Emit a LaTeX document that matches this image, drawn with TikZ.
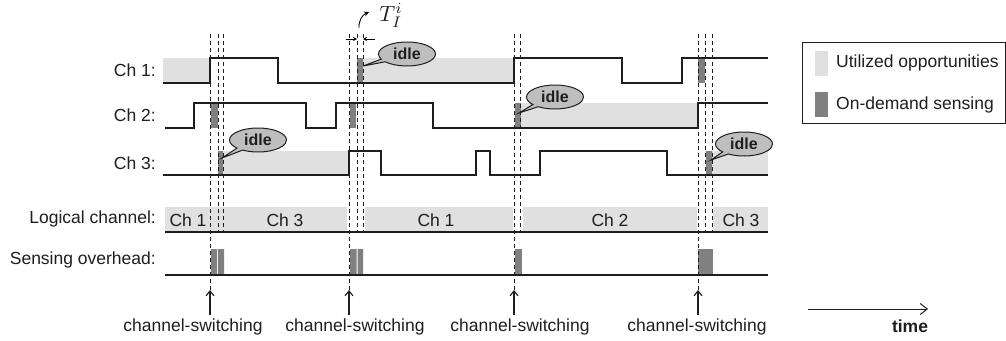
\documentclass[tikz,border=0pt]{standalone}
\usepackage{fontspec}
\setmainfont{Liberation Sans}
\usetikzlibrary{arrows.meta,shapes.callouts}
\definecolor{IdleGray}{HTML}{E0E0E0}
\definecolor{SenseGray}{HTML}{808080}
\definecolor{BubbleGray}{HTML}{BEBEBE}
\definecolor{InkBlack}{HTML}{1E1E1E}

\begin{document}
\begin{tikzpicture}[x=1pt,y=-1pt,
  every node/.style={font=\fontsize{17.5}{20}\selectfont,text=InkBlack},
  rowlabel/.style={anchor=east,inner sep=0pt},
  wave/.style={line width=1.6pt,InkBlack},
  guide/.style={dash pattern=on 4pt off 3pt,line width=.8pt,InkBlack},
  switcharrow/.style={-{Straight Barb[length=5pt,width=8pt]},line width=1.1pt,InkBlack},
  idlebubble/.style={ellipse callout,draw=InkBlack,line width=1pt,fill=BubbleGray,
    minimum width=57pt,minimum height=24pt,inner sep=0pt,
    font=\fontsize{16}{18}\selectfont\bfseries}]
  \useasboundingbox (0,0) rectangle (1006,340);
  % utilized opportunities
  \fill[IdleGray] (163,58) rectangle (210,83);
  \fill[IdleGray] (363,58) rectangle (514,83);
  \fill[IdleGray] (521,103) rectangle (698,128);
  \fill[IdleGray] (223,151) rectangle (349,175);
  \fill[IdleGray] (712,151) rectangle (768,175);
  % logical channel band
  \fill[IdleGray] (165,207) rectangle (347,232);
  \fill[IdleGray] (365,207) rectangle (513,232);
  \fill[IdleGray] (523,207) rectangle (697,232);
  \fill[IdleGray] (713,207) rectangle (768,232);
  % on-demand sensing
  \fill[SenseGray] (211,103) rectangle (218,128);
  \fill[SenseGray] (218,151) rectangle (223,175);
  \fill[SenseGray] (357,58) rectangle (363,83);
  \fill[SenseGray] (350,103) rectangle (356,128);
  \fill[SenseGray] (515,103) rectangle (521,128);
  \fill[SenseGray] (698,58) rectangle (705,83);
  \fill[SenseGray] (706,151) rectangle (712,175);
  % sensing overhead
  \fill[SenseGray] (211,249) rectangle (217,275) (218,249) rectangle (224,275);
  \fill[SenseGray] (350,249) rectangle (356.5,275) (357.5,249) rectangle (363,275);
  \fill[SenseGray] (515,249) rectangle (522,275);
  \fill[SenseGray] (698,249) rectangle (713,275);

  % switching instants
  \foreach \x/\t/\n in {210/193/1,349/355/2,514/520/3,698/697/4}{
    \coordinate (tip\n) at (\x,290);
    \node (sw\n) at (\t,327) {channel-switching};
    \draw[guide] (\x,34) -- (tip\n);
    \draw[switcharrow] (sw\n.north -| tip\n) -- (tip\n);
  }
  \foreach \x in {218,223,357,363,520,705,712}
    \draw[guide] (\x,34) -- (\x,232);

  % channel states
  \draw[wave] (163,83) -- (210,83) -- (210,58) -- (278,58) -- (278,83) -- (514,83)
    -- (514,58) -- (622,58) -- (622,83) -- (682,83) -- (682,58) -- (768,58);
  \draw[wave] (165,128) -- (194,128) -- (194,103) -- (306,103) -- (306,128) -- (336,128)
    -- (336,103) -- (433,103) -- (433,128) -- (698,128) -- (698,103) -- (768,103);
  \draw[wave] (163,175) -- (349,175) -- (349,151) -- (381,151) -- (381,175) -- (476,175)
    -- (476,151) -- (490,151) -- (490,175) -- (540,175) -- (540,151) -- (667,151)
    -- (667,175) -- (768,175);
  \draw[wave] (165,232) -- (768,232);
  \draw[wave] (165,275) -- (768,275);

  \node[rowlabel] (lblA) at (156,70) {Ch 1:};
  \node[rowlabel] (lblB) at (156,115) {Ch 2:};
  \node[rowlabel] (lblC) at (156,163) {Ch 3:};
  \node[rowlabel] (lblLog) at (156,219) {Logical channel:};
  \node[rowlabel] (lblSense) at (156,260) {Sensing overhead:};

  \node (log1) at (188,220) {Ch 1};
  \node (log2) at (285,220) {Ch 3};
  \node (log3) at (436,220) {Ch 1};
  \node (log4) at (610,220) {Ch 2};
  \node (log5) at (741,220) {Ch 3};

  % idle bubbles
  \node[idlebubble,callout absolute pointer={(363,66)}] (idleA) at (407,54) {idle};
  \node[idlebubble,callout absolute pointer={(222,158)}] (idleB) at (258,140) {idle};
  \node[idlebubble,callout absolute pointer={(519,113)}] (idleC) at (555,97) {idle};
  \node[idlebubble,callout absolute pointer={(711,160)}] (idleD) at (744,144) {idle};

  % sensing interval
  \draw[-{Stealth[length=4pt,width=4pt]},line width=.7pt] (346,39) -- (357,39);
  \draw[-{Stealth[length=4pt,width=4pt]},line width=.7pt] (375,39) -- (363,39);
  \draw[-{Stealth[length=5pt,width=5pt]},line width=.9pt] (359,28) to[bend left=35] (369,12);
  \node[font=\normalsize,scale=2.2,inner sep=0pt] (tsense) at (391,15) {$T_I^i$};

  % legend
  \draw[line width=.8pt,InkBlack] (802,42) rectangle (1005.5,123);
  \fill[IdleGray] (815,51) rectangle (828,76);
  \fill[SenseGray] (815,92) rectangle (828,117);
  \node[anchor=west,inner sep=0pt] (legA) at (836,63) {Utilized opportunities};
  \node[anchor=west,inner sep=0pt] (legB) at (836,105) {On-demand sensing};

  % time axis
  \coordinate (tend) at (928,309);
  \node[font=\fontsize{17.5}{20}\selectfont\bfseries] (tlbl) at (910,326) {time};
  \draw[-{Straight Barb[length=7pt,width=11pt]},line width=1pt,InkBlack] (808,309) -- (tend);
\end{tikzpicture}
\end{document}
